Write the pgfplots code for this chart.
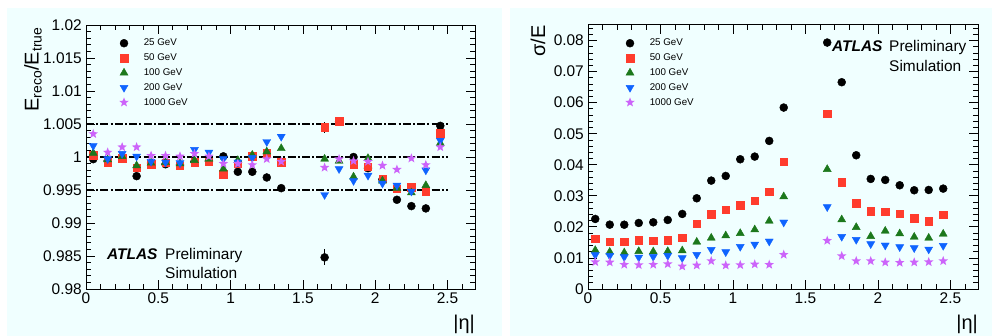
\documentclass[border=0pt]{standalone}
\usepackage{pgfplots}
\usepackage{pgfplotstable}
\pgfplotsset{compat=1.18}
\usepackage{fontspec}
\setmainfont{Liberation Sans}

\definecolor{bgc}{RGB}{240,255,255}
\definecolor{cred}{RGB}{255,60,45}
\definecolor{cgreen}{RGB}{28,120,28}
\definecolor{cblue}{RGB}{15,100,255}
\definecolor{cviolet}{RGB}{204,100,250}

\pgfdeclareplotmark{fstar}{%
 \pgfpathmoveto{\pgfpointpolar{90}{\pgfplotmarksize}}%
 \pgfpathlineto{\pgfpointpolar{126}{0.42\pgfplotmarksize}}%
 \pgfpathlineto{\pgfpointpolar{162}{\pgfplotmarksize}}%
 \pgfpathlineto{\pgfpointpolar{198}{0.42\pgfplotmarksize}}%
 \pgfpathlineto{\pgfpointpolar{234}{\pgfplotmarksize}}%
 \pgfpathlineto{\pgfpointpolar{270}{0.42\pgfplotmarksize}}%
 \pgfpathlineto{\pgfpointpolar{306}{\pgfplotmarksize}}%
 \pgfpathlineto{\pgfpointpolar{342}{0.42\pgfplotmarksize}}%
 \pgfpathlineto{\pgfpointpolar{18}{\pgfplotmarksize}}%
 \pgfpathlineto{\pgfpointpolar{54}{0.42\pgfplotmarksize}}%
 \pgfpathclose
 \pgfusepathqfill}

\pgfplotstableread{
x e25 e50 e100 e200 e1000
0.05 0.99967 1.0003 1.0006 1.0017 1.0035
0.15 0.9994 0.9992 0.9996 0.9997 1.0007
0.25 1.0000 0.9998 1.0001 1.0005 1.0015
0.35 0.9971 0.9984 0.9987 1.0001 1.0015
0.45 0.9991 0.9989 0.9991 0.9993 1.0002
0.55 0.9989 0.9991 0.9992 0.9992 1.0002
0.65 0.9988 0.9987 0.9990 0.9991 1.0001
0.75 0.9993 0.9992 0.9995 1.0011 1.0005
0.85 0.9994 0.9993 0.9997 1.0007 1.0001
0.95 1.0001 0.9974 0.9982 0.9997 0.9990
1.05 0.99776 0.9990 0.9995 0.9992 0.9990
1.15 0.99776 1.0001 1.0003 0.9999 0.9988
1.25 0.9969 1.0006 1.0008 1.0023 0.9997
1.35 0.99528 0.9992 1.0013 1.0031 0.9993
1.65 0.98479 1.0045 0.9997 0.99427 0.9984
1.75 1.0054 1.0054 0.9994 0.9982 0.9997
1.85 1.0000 0.9989 0.9970 0.9964 0.9994
1.95 0.9983 0.9985 0.9998 0.9972 0.9993
2.05 0.9966 0.9967 0.9964 0.9960 0.9987
2.15 0.99352 0.9952 0.9953 0.9957 0.9981
2.25 0.99256 0.9954 0.9946 0.9948 0.9998
2.35 0.99221 0.9948 0.9957 0.9980 0.9988
2.45 1.00472 1.0036 1.0021 1.0025 1.0015
}\resp

\pgfplotstableread{
x e25 e50 e100 e200 e1000
0.05 0.02255 0.01611 0.01246 0.01095 0.0087
0.15 0.02072 0.01525 0.01192 0.01074 0.00859
0.25 0.0207 0.01525 0.0117 0.01031 0.00784
0.35 0.02126 0.01568 0.01213 0.0102 0.00773
0.45 0.02148 0.01557 0.01203 0.01042 0.00784
0.55 0.02223 0.01568 0.01213 0.01074 0.00805
0.65 0.02416 0.01654 0.01235 0.00999 0.0073
0.75 0.02921 0.02105 0.01514 0.01106 0.00762
0.85 0.0349 0.02405 0.01643 0.01267 0.00902
0.95 0.0364 0.02556 0.01718 0.01192 0.00762
1.05 0.04177 0.02695 0.01793 0.01364 0.00773
1.15 0.04263 0.02835 0.01911 0.01439 0.00795
1.25 0.04768 0.03136 0.0219 0.01536 0.00784
1.35 0.05842 0.04091 0.02975 0.02148 0.01106
1.65 0.07935 0.05648 0.03855 0.02642 0.01557
1.75 0.06658 0.03436 0.02234 0.01686 0.01063
1.85 0.04306 0.0276 0.01987 0.01589 0.00902
1.95 0.03544 0.02502 0.01697 0.0145 0.00902
2.05 0.03511 0.0248 0.01868 0.01407 0.00859
2.15 0.0334 0.02416 0.01783 0.01353 0.00848
2.25 0.03179 0.02277 0.01675 0.01321 0.00859
2.35 0.03189 0.0218 0.01643 0.01278 0.0087
2.45 0.03232 0.02395 0.01772 0.01396 0.00902
}\reso

\pgfplotstableread{
x y ey
1.65 0.98479 0.0012
}\errblack
\pgfplotstableread{
x y ey
1.65 1.0045 0.0008
}\errred

\pgfplotsset{
 s25/.style={only marks, mark=*, mark size=4bp, color=black, mark options={draw=black, fill=black}},
 s50/.style={only marks, mark=square*, mark size=3.7bp, color=cred, mark options={draw=cred, fill=cred}},
 s100/.style={only marks, mark=triangle*, mark size=4.6bp, color=cgreen, mark options={draw=cgreen, fill=cgreen}},
 s200/.style={only marks, mark=triangle*, mark size=4.6bp, color=cblue, mark options={draw=cblue, fill=cblue, rotate=180}},
 s1000/.style={only marks, mark=fstar, mark size=5bp, color=cviolet, mark options={draw=cviolet, fill=cviolet}},
 atlas/.style={
  scale only axis, anchor=south west,
  xmin=0, xmax=2.69,
  scaled x ticks=false, scaled y ticks=false,
  axis line style={line width=1bp},
  tick align=inside, tick pos=both,
  major tick length=9bp, minor tick length=5bp,
  every tick/.style={black, line width=0.8bp},
  xtick={0,0.5,1,1.5,2,2.5}, xticklabels={0,0.5,1,1.5,2,2.5},
  minor xtick={0.1,0.2,0.3,0.4,0.6,0.7,0.8,0.9,1.1,1.2,1.3,1.4,1.6,1.7,1.8,1.9,2.1,2.2,2.3,2.4,2.6},
  ticklabel style={font=\fontsize{15.5}{16}\selectfont, inner sep=0pt},
  xticklabel style={yshift=-4bp},
  yticklabel style={xshift=-4bp},
  legend style={draw=none, fill=none, inner sep=0pt, font=\fontsize{9.8}{10}\selectfont,
     anchor=north west, column sep=13bp, row sep=2.5bp},
  legend cell align=left,
 },
}

\begin{document}
\begin{tikzpicture}
\path[use as bounding box, fill=white] (0bp,0bp) rectangle (992bp,336bp);
\fill[bgc] (7bp,0bp) rectangle (502bp,328bp);
\fill[bgc] (510bp,0bp) rectangle (992bp,328bp);

\begin{axis}[atlas, at={(86bp,47bp)}, width=389bp, height=264bp,
  ymin=0.98, ymax=1.02,
  ytick={0.98,0.985,0.99,0.995,1,1.005,1.01,1.015,1.02},
  yticklabels={0.98,0.985,0.99,0.995,1,1.005,1.01,1.015,1.02},
  minor ytick={0.981,0.982,0.983,0.984,0.986,0.987,0.988,0.989,0.991,0.992,0.993,0.994,0.996,0.997,0.998,0.999,1.001,1.002,1.003,1.004,1.006,1.007,1.008,1.009,1.011,1.012,1.013,1.014,1.016,1.017,1.018,1.019},
  legend style={at={(axis description cs:0.085,0.955)}},
]
\addplot[black, line width=1.6bp, dash pattern=on 8bp off 2.2bp on 2bp off 2.2bp, forget plot] coordinates {(0,1.005) (2.5,1.005)};
\addplot[black, line width=1.6bp, dash pattern=on 8bp off 2.2bp on 2bp off 2.2bp, forget plot] coordinates {(0,1.0) (2.5,1.0)};
\addplot[black, line width=1.6bp, dash pattern=on 8bp off 2.2bp on 2bp off 2.2bp, forget plot] coordinates {(0,0.995) (2.5,0.995)};
\addplot[black, line width=0.8bp, forget plot, mark=none, error bars/.cd, y dir=both, y explicit, error mark=none, error bar style={black, line width=0.8bp}] table[x=x, y=y, y error=ey] {\errblack};
\addplot[cred, line width=0.8bp, forget plot, mark=none, draw=none, error bars/.cd, y dir=both, y explicit, error mark=none, error bar style={black, line width=0.8bp}] table[x=x, y=y, y error=ey] {\errred};
\addplot[s25] table[x=x, y=e25] {\resp};
\addplot[s50] table[x=x, y=e50] {\resp};
\addplot[s100] table[x=x, y=e100] {\resp};
\addplot[s200] table[x=x, y=e200] {\resp};
\addplot[s1000] table[x=x, y=e1000] {\resp};
\legend{25 GeV, 50 GeV, 100 GeV, 200 GeV, 1000 GeV}
\end{axis}

\begin{axis}[atlas, at={(588bp,47bp)}, width=390bp, height=264bp,
  ymin=0, ymax=0.085,
  ytick={0,0.01,0.02,0.03,0.04,0.05,0.06,0.07,0.08},
  yticklabels={0,0.01,0.02,0.03,0.04,0.05,0.06,0.07,0.08},
  minor ytick={0.002,0.004,0.006,0.008,0.012,0.014,0.016,0.018,0.022,0.024,0.026,0.028,0.032,0.034,0.036,0.038,0.042,0.044,0.046,0.048,0.052,0.054,0.056,0.058,0.062,0.064,0.066,0.068,0.072,0.074,0.076,0.078,0.082,0.084},
  legend style={at={(axis description cs:0.095,0.955)}},
]
\addplot[s25] table[x=x, y=e25] {\reso};
\addplot[s50] table[x=x, y=e50] {\reso};
\addplot[s100] table[x=x, y=e100] {\reso};
\addplot[s200] table[x=x, y=e200] {\reso};
\addplot[s1000] table[x=x, y=e1000] {\reso};
\legend{25 GeV, 50 GeV, 100 GeV, 200 GeV, 1000 GeV}
\end{axis}

% axis titles
\node[rotate=90, anchor=base east, inner sep=0pt, font=\fontsize{20}{20}\selectfont] at (38.5bp,309bp) {E\textsubscript{reco}/E\textsubscript{true}};
\node[rotate=90, anchor=base east, inner sep=0pt, font=\fontsize{20}{20}\selectfont] at (545bp,311bp) {σ/E};
\node[anchor=base east, inner sep=0pt, font=\fontsize{20}{20}\selectfont] at (475bp,7bp) {|η|};
\node[anchor=base east, inner sep=0pt, font=\fontsize{20}{20}\selectfont] at (978bp,7bp) {|η|};

% ATLAS labels
\begin{scope}[every node/.style={anchor=base west, inner sep=0pt, font=\fontsize{15.5}{16}\selectfont}]
\node at (107bp,76bp) {\bfseries\itshape ATLAS};
\node at (165bp,76bp) {Preliminary};
\node at (165bp,57bp) {Simulation};
\node at (832bp,284bp) {\bfseries\itshape ATLAS};
\node at (889bp,284bp) {Preliminary};
\node at (889bp,264bp) {Simulation};
\end{scope}
\end{tikzpicture}
\end{document}
